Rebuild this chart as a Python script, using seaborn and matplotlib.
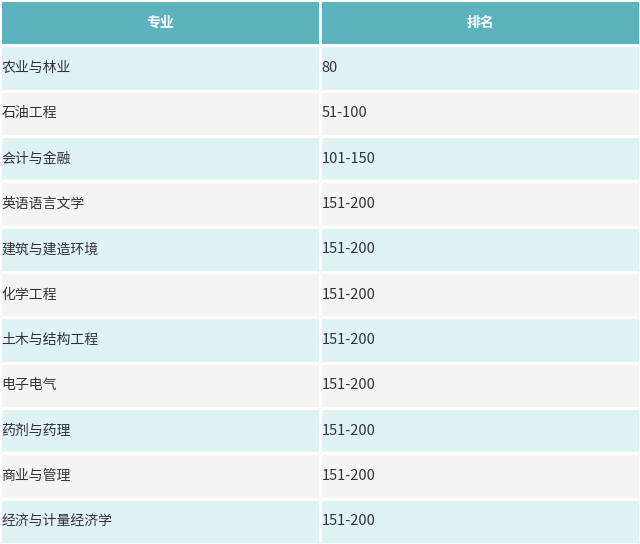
import matplotlib
matplotlib.use("Agg")
import matplotlib.pyplot as plt
from matplotlib.colors import ListedColormap
import seaborn as sns
import numpy as np

headers = ["专业", "排名"]
majors = ["农业与林业", "石油工程", "会计与金融", "英语语言文学", "建筑与建造环境",
          "化学工程", "土木与结构工程", "电子电气", "药剂与药理", "商业与管理", "经济与计量经济学"]
ranks = ["80", "51-100", "101-150", "151-200", "151-200", "151-200",
         "151-200", "151-200", "151-200", "151-200", "151-200"]

n = len(majors)
vals = np.array([[2, 2]] + [[i % 2, i % 2] for i in range(n)])
cmap = ListedColormap(["#dff2f4", "#f4f4f4", "#5db3bd"])

fig = plt.figure(figsize=(6.4, 5.44), dpi=100)
ax = fig.add_axes([0, 0, 1, 1])
sns.heatmap(vals, cmap=cmap, vmin=-0.5, vmax=2.5, cbar=False, linewidths=1,
            linecolor="white", ax=ax, xticklabels=False, yticklabels=False)
ax.set_xlim(0, 2)
ax.set_ylim(n + 1, 0)
font = "Noto Sans CJK SC"
for j, h in enumerate(headers):
    ax.text(j + 0.5, 0.5, h, ha="center", va="center", color="white",
            fontsize=10, fontweight="bold", family=font)
for i, (m, r) in enumerate(zip(majors, ranks)):
    y = i + 1.5
    ax.text(0.005, y, m, ha="left", va="center", color="#333333", fontsize=10, family=font)
    ax.text(1.005, y, r, ha="left", va="center", color="#333333", fontsize=10.5, family=font)
fig.savefig("out.png", dpi=100)
